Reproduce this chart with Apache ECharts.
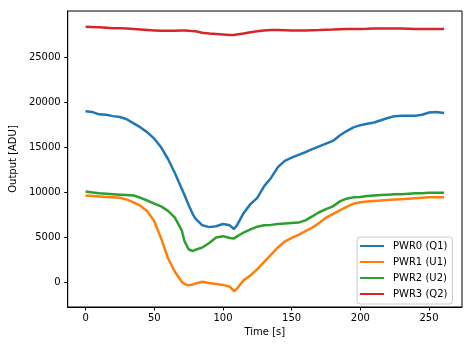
<!DOCTYPE html>
<html>
<head>
<meta charset="utf-8">
<script src="https://cdn.jsdelivr.net/npm/echarts@6/dist/echarts.min.js"></script>
<style>
  html, body { margin: 0; padding: 0; background: #fff; }
  #chart { width: 473px; height: 347px; }
</style>
</head>
<body>
<div id="chart"></div>
<script>
// Sample times in seconds
const times = [0, 5, 10, 15, 20, 25, 30, 35, 40, 45, 50, 55, 60, 65, 70, 72, 75, 78,
  80, 85, 90, 95, 100, 105, 108, 110, 115, 120, 125, 130, 135, 140, 145, 150, 155,
  160, 165, 170, 175, 180, 185, 190, 195, 200, 205, 210, 215, 220, 225, 230, 235,
  240, 245, 250, 255, 261];

// Detector outputs in ADU, one value per sample time
const pwr0 = [19000, 18900, 18650, 18600, 18450, 18350, 18100, 17650, 17200, 16650,
  15950, 15000, 13700, 12150, 10400, 9700, 8600, 7600, 7100, 6350, 6150, 6250, 6500,
  6350, 5950, 6300, 7700, 8700, 9400, 10700, 11600, 12800, 13500, 13850, 14150, 14450,
  14800, 15100, 15400, 15700, 16300, 16800, 17200, 17450, 17600, 17750, 18000, 18250,
  18450, 18500, 18500, 18500, 18600, 18850, 18900, 18800];
const pwr1 = [9650, 9600, 9550, 9500, 9450, 9400, 9200, 8900, 8500, 7900, 6800, 4900,
  2700, 1200, 100, -150, -300, -200, -100, 100, -50, -150, -250, -450, -950, -700, 250,
  800, 1500, 2300, 3100, 3900, 4550, 4950, 5300, 5700, 6100, 6600, 7200, 7600, 8000,
  8400, 8750, 8900, 9000, 9050, 9100, 9150, 9200, 9250, 9300, 9350, 9400, 9450, 9450,
  9450];
const pwr2 = [10100, 10000, 9900, 9850, 9800, 9750, 9700, 9650, 9400, 9100, 8750, 8450,
  7950, 7200, 5800, 4600, 3700, 3500, 3650, 3900, 4400, 5000, 5150, 4950, 4900, 5100,
  5550, 5900, 6200, 6350, 6400, 6500, 6550, 6600, 6650, 6900, 7350, 7800, 8150, 8450,
  9000, 9300, 9450, 9500, 9600, 9650, 9700, 9750, 9800, 9800, 9850, 9900, 9900, 9950,
  9950, 9950];
const pwr3 = [28350, 28320, 28300, 28250, 28200, 28180, 28150, 28100, 28050, 28000,
  27950, 27900, 27900, 27920, 27950, 27930, 27900, 27870, 27850, 27700, 27600, 27550,
  27500, 27450, 27450, 27500, 27600, 27750, 27850, 27950, 28000, 28000, 27980, 27950,
  27950, 27950, 27980, 28000, 28030, 28050, 28080, 28100, 28100, 28100, 28120, 28150,
  28150, 28150, 28150, 28150, 28130, 28100, 28100, 28100, 28100, 28100];

const seriesNames = ['PWR0 (Q1)', 'PWR1 (U1)', 'PWR2 (U2)', 'PWR3 (Q2)'];
const seriesColors = ['#1f77b4', '#ff7f0e', '#2ca02c', '#d62728'];
const xTicks = [0, 50, 100, 150, 200, 250];
const yTicks = [0, 5000, 10000, 15000, 20000, 25000];

const FONT = 'DejaVu Sans';
const chart = echarts.init(document.getElementById('chart'), null, { renderer: 'canvas' });

const allValues = [pwr0, pwr1, pwr2, pwr3];
const series = allValues.map((vals, i) => ({
  name: seriesNames[i],
  type: 'line',
  data: times.map((t, k) => [t, vals[k]]),
  showSymbol: false,
  symbol: 'none',
  color: seriesColors[i],
  lineStyle: { width: 2.5, color: seriesColors[i] },
  animation: false
}));

const plainNumber = v => String(v);

chart.setOption({
  animation: false,
  backgroundColor: '#fff',
  textStyle: { fontFamily: FONT },
  grid: {
    left: 66, top: 11, right: 11, bottom: 40,
    show: true, borderColor: '#000', borderWidth: 1, backgroundColor: 'transparent'
  },
  legend: {
    orient: 'vertical',
    left: 357, top: 237,
    icon: 'rect',
    itemWidth: 24, itemHeight: 2, itemGap: 4,
    padding: [3, 5, 4, 3],
    borderColor: '#cccccc', borderWidth: 1, borderRadius: 3,
    backgroundColor: 'rgba(255,255,255,0.8)',
    textStyle: { fontFamily: FONT, fontSize: 10, color: '#000', lineHeight: 12, padding: [0, 0, 0, 4] },
    data: seriesNames
  },
  xAxis: {
    type: 'value',
    min: -13, max: 274,
    name: 'Time [s]',
    nameLocation: 'middle',
    nameGap: 20,
    nameTextStyle: { fontFamily: FONT, fontSize: 10, color: '#000' },
    axisLine: { show: true, onZero: false, lineStyle: { color: '#000', width: 1 } },
    axisTick: { show: true, inside: false, length: 3.5, lineStyle: { color: '#000' }, customValues: xTicks },
    axisLabel: { fontFamily: FONT, fontSize: 10, color: '#000', margin: 6, customValues: xTicks, formatter: plainNumber },
    splitLine: { show: false }
  },
  yAxis: {
    type: 'value',
    min: -2700, max: 30100,
    name: 'Output [ADU]',
    nameLocation: 'middle',
    nameGap: 48,
    nameRotate: 90,
    nameTextStyle: { fontFamily: FONT, fontSize: 10, color: '#000' },
    axisLine: { show: true, onZero: false, lineStyle: { color: '#000', width: 1 } },
    axisTick: { show: true, inside: false, length: 3.5, lineStyle: { color: '#000' }, customValues: yTicks },
    axisLabel: { fontFamily: FONT, fontSize: 10, color: '#000', margin: 7, customValues: yTicks, formatter: plainNumber },
    splitLine: { show: false }
  },
  series: series
});
</script>
</body>
</html>
